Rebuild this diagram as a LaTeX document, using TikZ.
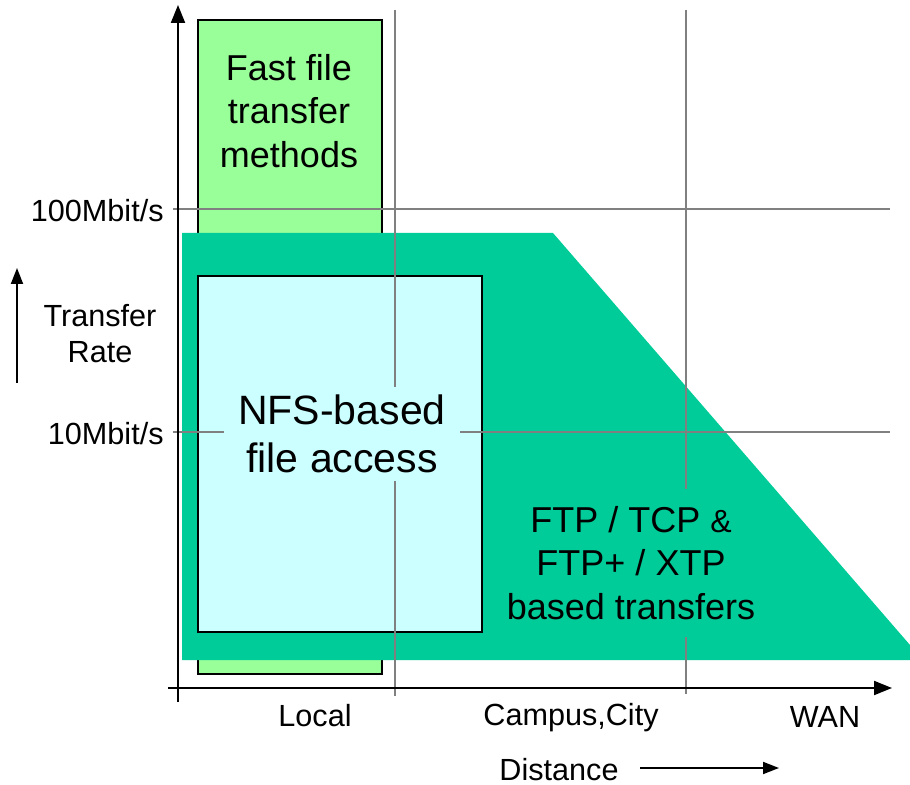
\documentclass[tikz,border=0pt]{standalone}
\usepackage{fontspec}
\setmainfont{Liberation Sans}
\usetikzlibrary{arrows.meta}
\definecolor{fastgreen}{HTML}{99FF99}
\definecolor{ftpteal}{HTML}{00CC99}
\definecolor{nfsblue}{HTML}{CCFFFF}
\definecolor{gridgray}{HTML}{808080}
\tikzstyle{gridline}=[draw=gridgray,line width=1pt]
\tikzstyle{axis}=[line width=1pt,-{Triangle[length=9pt,width=7pt]}]
\tikzstyle{smallarrow}=[line width=0.9pt,-{Triangle[length=8pt,width=6pt]}]
\tikzstyle{region}=[draw=black,line width=1pt]
\tikzstyle{axislabel}=[inner sep=0pt,align=center,font=\fontsize{15.3}{18}\selectfont]
\tikzstyle{bigtext}=[align=center,font=\fontsize{18}{21.6}\selectfont]

\begin{document}
\begin{tikzpicture}[x=0.5pt,y=-0.5pt]
\useasboundingbox (0,0) rectangle (910,785);
% regions
\filldraw[region,fill=fastgreen] (198,20) rectangle (382,674);
\fill[ftpteal] (182,233) -- (553,233) -- (910,645) -- (910,660) -- (182,660) -- cycle;
\filldraw[region,fill=nfsblue] (198,276) rectangle (482,632);
% grid
\draw[gridline] (173,209) -- (890,209);
\draw[gridline] (173,432) -- (890,432);
\draw[gridline] (395,10) -- (395,696);
\draw[gridline] (686,10) -- (686,694);
% region texts
\node[bigtext] (fast) at (289,111) {Fast file\\transfer\\methods};
\node[bigtext,font=\fontsize{20.5}{24.3}\selectfont,fill=nfsblue,inner xsep=7pt,inner ysep=4pt] (nfs) at (342,434) {NFS-based\\file access};
\node[bigtext,fill=ftpteal,inner xsep=6pt,inner ysep=9pt] (ftp) at (631,563) {FTP / TCP {\fontsize{16}{16}\selectfont\&}\\FTP+ / XTP\\based transfers};
% axes
\coordinate (ybot) at (178,702);
\coordinate (ytop) at (178,5);
\coordinate (xleft) at (168,688);
\coordinate (xright) at (892,688);
\draw[axis] (ybot) -- (ytop);
\draw[axis] (xleft) -- (xright);
% labels
\node[axislabel,anchor=east] (r100) at (164,211) {100Mbit/s};
\node[axislabel,anchor=east] (r10) at (164,434) {10Mbit/s};
\node[axislabel] (rate) at (100,334) {Transfer\\Rate};
\coordinate (rtail) at (17,383);
\coordinate (rhead) at (17,268);
\draw[smallarrow] (rtail) -- (rhead);
\node[axislabel] (local) at (315,716) {Local};
\node[axislabel] (campus) at (571,718) {Campus,City};
\node[axislabel] (wan) at (825,717) {WAN};
\node[axislabel] (dist) at (559,770) {Distance};
\coordinate (dtail) at (640,768);
\coordinate (dhead) at (779,768);
\draw[smallarrow] (dtail) -- (dhead);
\end{tikzpicture}
\end{document}
